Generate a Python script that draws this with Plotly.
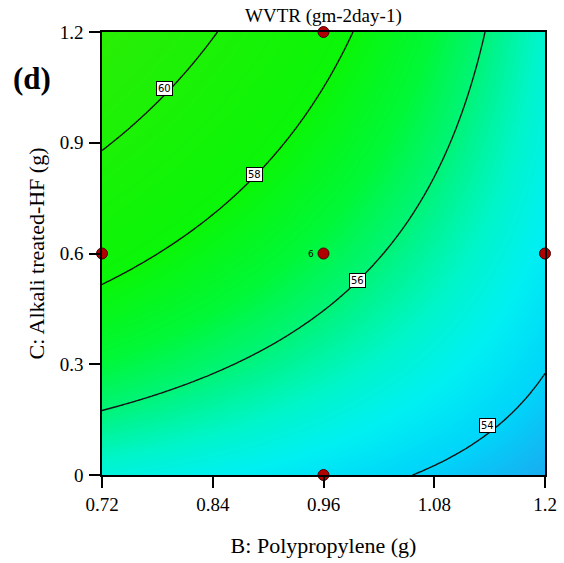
import numpy as np
import plotly.graph_objects as go

# Quadratic response-surface coefficients (coded units)
coef_names = ["const", "B", "C", "BC", "B2", "C2"]
coef_values = [56.546, -2.0, 2.072, -1.293, -0.072, -0.178]

# Factor ranges
B_range = [0.72, 1.2]
C_range = [0.0, 1.2]

# Design points
B_pts = [0.96, 0.72, 0.96, 1.20, 0.96]
C_pts = [1.20, 0.60, 0.60, 0.60, 0.00]

# Contour levels labelled on the chart
levels = [54, 56, 58, 60]

x_ticks = [0.72, 0.84, 0.96, 1.08, 1.2]
x_ticklabels = ["0.72", "0.84", "0.96", "1.08", "1.2"]
y_ticks = [0, 0.3, 0.6, 0.9, 1.2]
y_ticklabels = ["0", "0.3", "0.6", "0.9", "1.2"]

c = dict(zip(coef_names, coef_values))
B = np.linspace(B_range[0], B_range[1], 161)
C = np.linspace(C_range[0], C_range[1], 161)
BB, CC = np.meshgrid(B, C)
xb = (BB - 0.96) / 0.24
yc = (CC - 0.6) / 0.6
Z = (c["const"] + c["B"] * xb + c["C"] * yc + c["BC"] * xb * yc
     + c["B2"] * xb ** 2 + c["C2"] * yc ** 2)

zmin, zmax = float(Z.min()), float(Z.max())
stops = [(53.5, "rgb(25,172,240)"), (54.0, "rgb(0,212,250)"), (54.6, "rgb(0,240,242)"),
         (55.2, "rgb(0,245,200)"), (56.0, "rgb(0,244,120)"), (56.8, "rgb(0,248,55)"),
         (58.0, "rgb(10,246,8)"), (61.7, "rgb(42,238,5)")]
cs = [[min(max((v - zmin) / (zmax - zmin), 0), 1), col] for v, col in stops]
cs[0][0] = 0.0
cs[-1][0] = 1.0

fig = go.Figure()
fig.add_trace(go.Contour(
    x=B, y=C, z=Z, colorscale=cs, zmin=zmin, zmax=zmax,
    showscale=False, hoverinfo="skip",
    contours=dict(coloring="heatmap", start=levels[0], end=levels[-1], size=2, showlabels=False),
    line=dict(color="#151515", width=1.4),
))

fig.add_trace(go.Scatter(
    x=B_pts, y=C_pts, mode="markers", cliponaxis=False, hoverinfo="skip",
    marker=dict(size=11, color="#b00000", line=dict(color="#500000", width=1)),
))

label_pos = {60: (0.788, 1.046), 58: (0.885, 0.815), 56: (0.997, 0.528), 54: (1.138, 0.133)}
for lv in levels:
    px, py = label_pos[lv]
    fig.add_annotation(x=px, y=py, text=str(lv), showarrow=False,
                       font=dict(family="DejaVu Sans", size=10, color="black"),
                       bgcolor="white", bordercolor="black", borderwidth=1, borderpad=1)

fig.add_annotation(x=B_pts[2], y=C_pts[2], text="6", showarrow=False, xshift=-13,
                   font=dict(family="DejaVu Sans", size=9, color="black"))

fig.add_annotation(xref="paper", yref="paper", x=0.5, y=1.0, yshift=3, yanchor="bottom",
                   text="WVTR (gm-2day-1)", showarrow=False,
                   font=dict(family="Liberation Serif", size=19, color="black"))
fig.add_annotation(xref="paper", yref="paper", x=-0.205, y=0.938, xanchor="left",
                   text="<b>(d)</b>", showarrow=False,
                   font=dict(family="Liberation Serif", size=31, color="black"))

axis_common = dict(showline=True, linecolor="black", linewidth=1.5, mirror=True,
                   ticks="outside", ticklen=11, tickcolor="black", tickwidth=1.5,
                   showgrid=False, zeroline=False, automargin=False,
                   tickfont=dict(family="Liberation Serif", size=19, color="black"))

fig.update_layout(
    width=564, height=563, margin=dict(l=102, r=19, t=32, b=88),
    paper_bgcolor="white", plot_bgcolor="white", showlegend=False,
    xaxis=dict(range=B_range, tickvals=x_ticks, ticktext=x_ticklabels,
               ticklabelstandoff=0,
               title=dict(text="B: Polypropylene (g)", standoff=24,
                          font=dict(family="Liberation Serif", size=22, color="black")),
               **axis_common),
    yaxis=dict(range=C_range, tickvals=y_ticks, ticktext=y_ticklabels,
               ticklabelstandoff=2,
               title=dict(text="C: Alkali treated-HF (g)", standoff=9,
                          font=dict(family="Liberation Serif", size=22, color="black")),
               **axis_common),
)

fig.write_html("out.html")
